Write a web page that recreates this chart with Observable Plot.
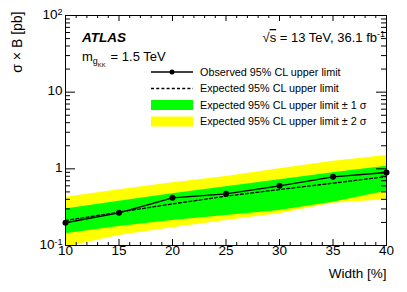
<!DOCTYPE html>
<html><head><meta charset="utf-8">
<script src="https://cdn.jsdelivr.net/npm/d3@7"></script>
<script src="https://cdn.jsdelivr.net/npm/@observablehq/plot@0.6"></script>
<style>
body{margin:0;background:#fff;}
#chart svg{display:block;}
</style>
</head><body><div id="chart"></div>
<script>
// ---- data ----
const widths   = [10, 15, 20, 25, 30, 35, 40];
const observed = [0.198, 0.267, 0.419, 0.472, 0.600, 0.787, 0.896];
const expected = [0.212, 0.272, 0.349, 0.440, 0.537, 0.650, 0.794];
const minus1   = [0.142, 0.177, 0.212, 0.246, 0.286, 0.367, 0.511];
const plus1    = [0.300, 0.378, 0.472, 0.582, 0.718, 0.886, 1.08];
const minus2   = [0.095, 0.135, 0.170, 0.212, 0.259, 0.356, 0.394];
const plus2    = [0.427, 0.532, 0.656, 0.794, 1.00, 1.26, 1.49];
const xMajor = [10, 15, 20, 25, 30, 35, 40];
const xMinor = [11,12,13,14,16,17,18,19,21,22,23,24,26,27,28,29,31,32,33,34,36,37,38,39];
const yMajor = [0.1, 1, 10, 100];
const yMajorLabels = ["10^-1", "1", "10", "10^2"];
const yMinor = [0.2,0.3,0.4,0.5,0.6,0.7,0.8,0.9,2,3,4,5,6,7,8,9,20,30,40,50,60,70,80,90];
const legendLabels = ["Observed 95% CL upper limit","Expected 95% CL upper limit","Expected 95% CL upper limit \u00b1 1 \u03c3","Expected 95% CL upper limit \u00b1 2 \u03c3"];
const xTitle = "Width [%]";
const yTitle = "\u03c3 \u00d7 B [pb]";

const rows = widths.map((w, i) => ({w, obs: observed[i], exp: expected[i], m1: minus1[i], p1: plus1[i], m2: minus2[i], p2: plus2[i]}));

const FONT = "'Liberation Sans', Arial, Helvetica, sans-serif";
const W = 407, H = 292, mL = 65, mR = 21, mT = 15, mB = 47;
const innerW = W - mL - mR, innerH = H - mT - mB;
const YELLOW = "#ffff00", GREEN = "#00ff00";

const chart = Plot.plot({
  width: W, height: H,
  marginLeft: mL, marginRight: mR, marginTop: mT, marginBottom: mB,
  style: {fontFamily: FONT, fontSize: "13px", color: "black", background: "white", overflow: "visible"},
  x: {domain: [10, 40], axis: null},
  y: {type: "log", domain: [0.1, 100], axis: null},
  marks: [
    Plot.areaY(rows, {x: "w", y1: "m2", y2: "p2", fill: YELLOW, clip: true}),
    Plot.areaY(rows, {x: "w", y1: "m1", y2: "p1", fill: GREEN, clip: true}),
    Plot.line(rows, {x: "w", y: "exp", stroke: "black", strokeWidth: 1.3, strokeDasharray: "3,2.2"}),
    Plot.line(rows, {x: "w", y: "obs", stroke: "black", strokeWidth: 1.3}),
    Plot.dot(rows, {x: "w", y: "obs", r: 3, fill: "black"}),
    // inward ticks (ROOT style), all four sides
    Plot.tickX(xMajor, {x: d => d, insetTop: innerH - 6, stroke: "black"}),
    Plot.tickX(xMajor, {x: d => d, insetBottom: innerH - 6, stroke: "black"}),
    Plot.tickX(xMinor, {x: d => d, insetTop: innerH - 3, stroke: "black"}),
    Plot.tickX(xMinor, {x: d => d, insetBottom: innerH - 3, stroke: "black"}),
    Plot.tickY(yMajor, {y: d => d, insetRight: innerW - 10, stroke: "black"}),
    Plot.tickY(yMajor, {y: d => d, insetLeft: innerW - 10, stroke: "black"}),
    Plot.tickY(yMinor, {y: d => d, insetRight: innerW - 5, stroke: "black"}),
    Plot.tickY(yMinor, {y: d => d, insetLeft: innerW - 5, stroke: "black"}),
    Plot.frame({stroke: "black", strokeWidth: 1}),
    Plot.text(xMajor, {x: d => d, text: d => String(d), frameAnchor: "bottom", dy: 9, fontSize: 13.5}),
    Plot.text(yMajor, {y: d => d, text: (d, i) => yMajorLabels[i], frameAnchor: "left", dx: -3, dy: -1, textAnchor: "end", fontSize: 13.5, className: "ylab"}),
    Plot.text([xTitle], {frameAnchor: "bottom-right", dy: 32, textAnchor: "end", fontSize: 13.5}),
    Plot.text([yTitle], {frameAnchor: "top-left", dx: -53, dy: -4, rotate: -90, textAnchor: "end", fontSize: 14})
  ]
});
document.getElementById("chart").appendChild(chart);

const svg = d3.select(chart);
// superscript exponents in y tick labels
svg.selectAll("g.ylab text").each(function () {
  const t = this.textContent;
  if (t.includes("^")) {
    const [b, e] = t.split("^");
    const el = d3.select(this);
    el.text(null);
    el.append("tspan").text(b);
    el.append("tspan").attr("dy", "-0.45em").attr("font-size", 9).text(e);
  }
});

const ann = svg.append("g").attr("font-family", FONT).attr("fill", "black").attr("text-anchor", "start");
// ATLAS label
ann.append("text").attr("x", 82).attr("y", 42).attr("font-size", 13.5)
  .attr("font-weight", "bold").attr("font-style", "italic").text("ATLAS");
// sqrt(s) label
const s = ann.append("text").attr("x", 385).attr("y", 42).attr("font-size", 13).attr("text-anchor", "end");
s.append("tspan").text("\u221a");
s.append("tspan").attr("style", "text-decoration: overline").text("s");
s.append("tspan").text(" = 13 TeV, 36.1 fb");
s.append("tspan").attr("dy", -5).attr("font-size", 9).text("-1");
// mass label
const m = ann.append("text").attr("x", 82).attr("y", 61).attr("font-size", 13);
m.append("tspan").text("m");
m.append("tspan").attr("dy", 3).attr("font-size", 9).text("g");
m.append("tspan").attr("dy", 3).attr("font-size", 6).text("KK");
m.append("tspan").attr("x", 107).attr("dy", -6).text(" = 1.5 TeV");

// legend
const lg = svg.append("g").attr("font-family", FONT).attr("font-size", 10.8).attr("text-anchor", "start");
const lx0 = 151, lx1 = 193, tx = 200, ys = [72, 88.5, 105, 121.5];
lg.append("line").attr("x1", lx0).attr("x2", lx1).attr("y1", ys[0]).attr("y2", ys[0]).attr("stroke", "black").attr("stroke-width", 1.3);
lg.append("circle").attr("cx", (lx0 + lx1) / 2).attr("cy", ys[0]).attr("r", 2.5).attr("fill", "black");
lg.append("line").attr("x1", lx0).attr("x2", lx1).attr("y1", ys[1]).attr("y2", ys[1]).attr("stroke", "black").attr("stroke-width", 1.3).attr("stroke-dasharray", "3,2.2");
lg.append("rect").attr("x", lx0).attr("y", ys[2] - 5).attr("width", lx1 - lx0).attr("height", 10).attr("fill", GREEN);
lg.append("rect").attr("x", lx0).attr("y", ys[3] - 5).attr("width", lx1 - lx0).attr("height", 10).attr("fill", YELLOW);
legendLabels.forEach((t, i) => {
  lg.append("text").attr("x", tx).attr("y", ys[i]).attr("dy", "0.35em").attr("fill", "black").text(t);
});
</script>
</body></html>
